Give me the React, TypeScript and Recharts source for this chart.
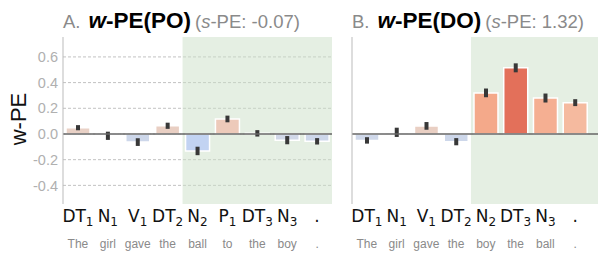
import { BarChart, Bar, XAxis, YAxis, CartesianGrid, ReferenceArea, ReferenceLine, ErrorBar, Cell } from 'recharts';

// panel A: prepositional object
const tagsA = ['DT', 'N', 'V', 'DT', 'N', 'P', 'DT', 'N', '.'];
const subsA = ['1', '1', '1', '2', '2', '1', '3', '3', ''];
const wordsA = ['The', 'girl', 'gave', 'the', 'ball', 'to', 'the', 'boy', '.'];
const wpeA = [0.049, -0.014, -0.063, 0.064, -0.132, 0.117, 0.005, -0.048, -0.057];
const errA = [0.02, 0.032, 0.03, 0.024, 0.033, 0.026, 0.025, 0.032, 0.025];
const sPeA = '-0.07';

// panel B: double object
const tagsB = ['DT', 'N', 'V', 'DT', 'N', 'DT', 'N', '.'];
const subsB = ['1', '1', '1', '2', '2', '3', '3', ''];
const wordsB = ['The', 'girl', 'gave', 'the', 'boy', 'the', 'ball', '.'];
const wpeB = [-0.05, 0.013, 0.063, -0.06, 0.32, 0.515, 0.28, 0.244];
const errB = [0.025, 0.036, 0.03, 0.028, 0.034, 0.035, 0.035, 0.027];
const sPeB = '1.32';

const yTicks = [-0.4, -0.2, 0, 0.2, 0.4, 0.6];

const fillA = ['#e9d1c6', '#d8dce6', '#cdd7ea', '#e9cfc3', '#c2d3f2', '#edcaba', '#dedbd9', '#d1d8e8', '#cdd7ea'];
const fillB = ['#cfd8ea', '#dfdad8', '#e9cfc3', '#cdd7ea', '#f4a98a', '#e3705a', '#f5af92', '#f5ba9f'];

const sans = '"Liberation Sans", Arial, sans-serif';
const gray = '#8a8a8a';

type PanelProps = {
  tags: string[];
  subs: string[];
  words: string[];
  values: number[];
  errs: number[];
  colors: string[];
  left: number;
  width: number;
  yAxisWidth: number;
  showYTicks: boolean;
  xMax: number;
  shadeFrom: number;
};

function Panel({ tags, subs, words, values, errs, colors, left, width, yAxisWidth, showYTicks, xMax, shadeFrom }: PanelProps) {
  const data = values.map((v, i) => ({ i, v, e: errs[i] }));
  const idx = values.map((_, i) => i);

  const Tick = (props: any) => {
    const { x, y, payload } = props;
    const k = payload.value;
    return (
      <g>
        <text x={x} y={y + 18} textAnchor="middle" fontFamily='"DejaVu Sans", sans-serif' fontSize={17} fill="#111">
          {tags[k]}
          {subs[k] ? <tspan fontSize={12} dy={4}>{subs[k]}</tspan> : null}
        </text>
        <text x={x} y={y + 44} textAnchor="middle" fontFamily={sans} fontSize={12} fill={gray}>
          {words[k]}
        </text>
      </g>
    );
  };

  return (
    <div style={{ position: 'absolute', left, top: 0 }}>
      <BarChart width={width} height={264} data={data} margin={{ top: 37, right: 0, bottom: 0, left: 0 }}>
        <CartesianGrid vertical={false} syncWithTicks stroke="#c2c2c2" strokeDasharray="3 2" />
        <ReferenceArea x1={shadeFrom} x2={xMax} fill="#cbdfc7" fillOpacity={0.5} stroke="none" />
        <XAxis
          dataKey="i"
          type="number"
          domain={[-0.5, xMax]}
          ticks={idx}
          tickCount={10}
          interval={0}
          axisLine={false}
          tickLine={false}
          tickSize={0}
          tickMargin={0}
          height={60}
          tick={<Tick />}
        />
        <YAxis
          type="number"
          domain={[-0.545, 0.755]}
          allowDataOverflow
          ticks={yTicks}
          width={yAxisWidth}
          axisLine={{ stroke: '#bbbbbb' }}
          tickLine={false}
          tickSize={0}
          tickMargin={5}
          tick={showYTicks ? { fill: '#b0b0b0', fontSize: 14.5, fontFamily: sans } : false}
          tickFormatter={(v: number) => v.toFixed(1)}
        />
        <Bar dataKey="v" barSize={24} stroke="#ffffff" strokeWidth={1.5} isAnimationActive={false}>
          {data.map((_, i) => (
            <Cell key={i} fill={colors[i]} />
          ))}
          <ErrorBar dataKey="e" width={0} stroke="#383838" strokeWidth={4} direction="y" />
        </Bar>
        <ReferenceLine y={0} stroke="#666666" strokeWidth={1.5} />
      </BarChart>
    </div>
  );
}

function Title({ x, letter, cond, spe }: { x: number; letter: string; cond: string; spe: string }) {
  return (
    <text x={x} y={28} fontFamily={sans}>
      <tspan fill={gray} fontSize={18.5}>{letter}.</tspan>
      <tspan dx={8} fill="#000" fontSize={22.5} fontWeight="bold" fontStyle="italic">w</tspan>
      <tspan fill="#000" fontSize={22.5} fontWeight="bold">-PE({cond})</tspan>
      <tspan dx={4} fill={gray} fontSize={18.5}>(</tspan>
      <tspan fill={gray} fontSize={18.5} fontStyle="italic">s</tspan>
      <tspan fill={gray} fontSize={18.5}>-PE: {spe})</tspan>
    </text>
  );
}

export default function App() {
  return (
    <div style={{ position: 'absolute', left: 0, top: 0, width: 598, height: 264, background: '#fff', overflow: 'hidden' }}>
      <Panel
        tags={tagsA} subs={subsA} words={wordsA} values={wpeA} errs={errA} colors={fillA}
        left={0} width={332} yAxisWidth={63} showYTicks xMax={8.5} shadeFrom={3.5}
      />
      <Panel
        tags={tagsB} subs={subsB} words={wordsB} values={wpeB} errs={errB} colors={fillB}
        left={340} width={258} yAxisWidth={12} showYTicks={false} xMax={7.77} shadeFrom={3.5}
      />
      <svg width={598} height={264} style={{ position: 'absolute', left: 0, top: 0, pointerEvents: 'none' }}>
        <Title x={63} letter="A" cond="PO" spe={sPeA} />
        <Title x={352} letter="B" cond="DO" spe={sPeB} />
        <text x={26} y={119} transform="rotate(-90 26 119)" textAnchor="middle" fontFamily={sans} fontSize={22} fill="#111">
          w-PE
        </text>
      </svg>
    </div>
  );
}
